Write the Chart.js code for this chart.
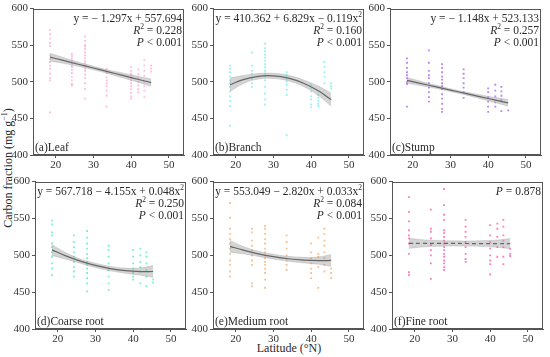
<!DOCTYPE html>
<html>
<head>
<meta charset="utf-8">
<script src="https://cdn.jsdelivr.net/npm/chart.js@4.4.0/dist/chart.umd.min.js"></script>
<style>
  body { margin: 0; background: #fff; }
  #wrap { position: relative; width: 550px; height: 357px; overflow: hidden; font-family: "Liberation Serif", serif; color: #2a2a2a; }
  canvas { position: absolute; }
  .ylab { position: absolute; left: 8px; top: 168px; transform: translate(-50%, -50%) rotate(-90deg); white-space: nowrap; font-size: 12px; }
  .xlab { position: absolute; left: 289px; top: 348px; transform: translate(-50%, -50%); white-space: nowrap; font-size: 12px; }
  sup { font-size: 8px; }
</style>
</head>
<body>
<div id="wrap">
  <div class="ylab">Carbon fraction (mg g<sup>−1</sup>)</div>
  <div class="xlab">Latitude (°N)</div>
</div>
<script>
// sampling sites (latitude, °N)
const siteLat = [18.5, 24.3, 27.8, 33.5, 40.0, 41.9, 43.5, 45.3]

const leafValues = [
  [571, 565, 559, 553, 549, 536, 531, 527, 522, 518, 511, 505, 502, 458],
  [538, 535, 532, 529, 526, 522, 520, 516, 512, 507, 502, 497, 495],
  [562, 556, 550, 548, 545, 540, 536, 532, 528, 525, 522, 518, 515, 510, 505, 498, 490, 477],
  [518, 512, 506, 502, 498, 494, 488, 481, 466],
  [520, 515, 511, 508, 505, 502, 498, 494, 490, 485, 480, 477],
  [517, 510, 505, 500, 495, 490, 486],
  [530, 522, 515, 508, 500, 494, 488, 479],
  [522, 518, 514]
]
const branchValues = [
  [522, 518, 513, 507, 502, 498, 493, 487, 480, 474, 467, 440],
  [540, 522, 515, 511, 504, 498, 493],
  [552, 546, 542, 537, 533, 529, 524, 520, 515, 511, 507, 502, 493, 484, 476, 469],
  [513, 509, 504, 500, 496, 489, 482, 427],
  [496, 491, 487, 480, 476, 469, 465],
  [482, 478, 474, 470, 467],
  [527, 520, 513, 507, 498],
  [498, 494, 491]
]
const stumpValues = [
  [532, 526, 519, 513, 509, 505, 500, 497, 466],
  [543, 526, 515, 509, 505, 498, 492, 486, 479, 473],
  [524, 519, 513, 507, 503, 498, 494, 490, 483, 477, 470, 463, 459],
  [517, 511, 505, 498, 492, 486, 478],
  [491, 486, 479, 473, 466, 459],
  [496, 488, 480, 472, 466],
  [493, 487, 481, 475, 460],
  [461]
]
const coarseValues = [
  [547, 542, 531, 527, 516, 511, 504, 498, 489, 482, 473],
  [527, 518, 511, 504, 498, 491, 484, 478, 471],
  [533, 524, 516, 509, 502, 496, 491, 487, 482, 476, 469, 462, 451],
  [513, 507, 498, 489, 480, 471, 462, 453],
  [507, 498, 489, 482, 476, 471, 467],
  [509, 500, 491, 484, 478, 462],
  [504, 498, 489, 480, 471, 458],
  [467, 463]
]
const mediumValues = [
  [571, 551, 536, 529, 522, 516, 509, 502, 493, 487, 478, 471],
  [536, 531, 520, 513, 507, 500, 493, 487, 462, 458],
  [540, 536, 529, 522, 516, 509, 504, 500, 496, 491, 487, 482, 476, 467, 456],
  [527, 518, 509, 500, 493, 487, 480],
  [516, 504, 496, 489, 482, 476, 469],
  [524, 502, 498, 484, 456],
  [536, 529, 520, 513, 504, 496, 487, 478],
  [482, 476, 469]
]
const fineValues = [
  [579, 559, 546, 534, 527, 523, 516, 502, 477, 473],
  [562, 536, 532, 523, 514, 507, 500, 489, 468],
  [590, 568, 555, 548, 534, 530, 525, 520, 516, 511, 507, 502, 498, 493, 489, 484, 480],
  [548, 539, 532, 525, 518, 511, 502, 495, 491],
  [541, 527, 518, 509, 500, 493, 488, 474],
  [543, 536, 525, 511, 498],
  [548, 539, 527, 520, 511, 498, 488],
  [509, 502, 499]
]

// fitted curves and their confidence bands
const fitLat = [18.5, 22, 26, 30, 34, 38, 42, 45.3]
const leafFit = [533.7, 529.2, 524.0, 518.8, 513.6, 508.4, 503.2, 498.9]
const leafLo = [528.5, 525.2, 521.1, 516.4, 511.1, 505.1, 499.1, 493.9]
const leafHi = [538.9, 533.2, 526.9, 521.2, 516.1, 511.7, 507.3, 503.9]
const branchFit = [496.0, 503.0, 507.5, 508.1, 505.0, 498.0, 487.3, 475.5]
const branchLo = [487.0, 497.5, 503.7, 504.5, 501.2, 493.5, 480.8, 466.5]
const branchHi = [505.0, 508.5, 511.3, 511.7, 508.8, 502.5, 493.8, 484.5]
const stumpFit = [501.9, 497.9, 493.3, 488.7, 484.1, 479.5, 474.9, 471.1]
const stumpLo = [497.9, 494.9, 491.1, 486.8, 482.1, 476.9, 471.4, 466.6]
const stumpHi = [505.9, 500.9, 495.5, 490.6, 486.1, 482.1, 478.4, 475.6]
const coarseFit = [507.3, 499.5, 492.1, 486.3, 481.9, 479.1, 477.9, 478.0]
const coarseLo = [499.8, 495.0, 489.1, 483.3, 478.9, 475.6, 472.9, 470.0]
const coarseHi = [514.8, 504.0, 495.1, 489.3, 484.9, 482.6, 482.9, 486.0]
const mediumFit = [512.2, 507.0, 502.0, 498.2, 495.3, 493.5, 492.8, 493.0]
const mediumLo = [504.2, 502.0, 498.5, 494.9, 492.0, 489.7, 487.8, 485.0]
const mediumHi = [520.2, 512.0, 505.5, 501.5, 498.6, 497.3, 497.8, 501.0]
const fineFit = [516.3, 516.2, 516.2, 516.1, 516.0, 515.9, 515.8, 515.8]
const fineLo = [509.3, 511.2, 512.2, 512.6, 512.5, 511.9, 510.8, 508.8]
const fineHi = [523.3, 521.2, 520.2, 519.6, 519.5, 519.9, 520.8, 522.8]

const xTicks = [20, 30, 40, 50]
const yTicks = [400, 450, 500, 550, 600]

const panelNames = ['(a)Leaf', '(b)Branch', '(c)Stump', '(d)Coarse root', '(e)Medium root', '(f)Fine root']
const equations = ['y = − 1.297x + 557.694', 'y = 410.362 + 6.829x − 0.119x^2', 'y = − 1.148x + 523.133',
  'y = 567.718 − 4.155x + 0.048x^2', 'y = 553.049 − 2.820x + 0.033x^2', '']
const r2Values = ['0.228', '0.160', '0.257', '0.250', '0.084', '']
const pValues = ['< 0.001', '< 0.001', '< 0.001', '< 0.001', '< 0.001', '= 0.878']

const panels = [
  { vals: leafValues, fit: leafFit, lo: leafLo, hi: leafHi, color: 'rgba(255,120,200,0.5)', left: 33, top: 5, h: 150 },
  { vals: branchValues, fit: branchFit, lo: branchLo, hi: branchHi, color: 'rgba(60,235,235,0.55)', left: 213, top: 5, h: 150 },
  { vals: stumpValues, fit: stumpFit, lo: stumpLo, hi: stumpHi, color: 'rgba(140,50,230,0.6)', left: 390, top: 5, h: 150 },
  { vals: coarseValues, fit: coarseFit, lo: coarseLo, hi: coarseHi, color: 'rgba(0,235,160,0.55)', left: 35, top: 178, h: 151 },
  { vals: mediumValues, fit: mediumFit, lo: mediumLo, hi: mediumHi, color: 'rgba(245,160,80,0.65)', left: 213, top: 178, h: 151 },
  { vals: fineValues, fit: fineFit, lo: fineLo, hi: fineHi, color: 'rgba(250,40,150,0.6)', left: 392, top: 178, h: 151, dashed: true }
]

const FONT = '"Liberation Serif", "Times New Roman", serif'
const axisW = 34, axisH = 24, plotW = 151

function toXY(xs, ys) {
  return xs.map((x, i) => ({ x: x, y: ys[i] }))
}

function drawRich(ctx, parts, xRight, y, size) {
  let total = 0
  parts.forEach(p => {
    ctx.font = (p[1] === 'i' ? 'italic ' : '') + (p[1] === 's' ? size * 0.65 : size) + 'px ' + FONT
    p.w = ctx.measureText(p[0]).width
    total += p.w
  })
  let x = xRight - total
  parts.forEach(p => {
    ctx.font = (p[1] === 'i' ? 'italic ' : '') + (p[1] === 's' ? size * 0.65 : size) + 'px ' + FONT
    ctx.fillText(p[0], x, p[1] === 's' ? y - size * 0.35 : y)
    x += p.w
  })
}

const annotate = {
  id: 'annotate',
  afterDraw(chart, args, opts) {
    const ctx = chart.ctx, a = chart.chartArea
    ctx.save()
    ctx.strokeStyle = '#555'
    ctx.lineWidth = 1
    ctx.strokeRect(Math.round(a.left) + 0.5, Math.round(a.top) + 0.5, Math.round(a.right - a.left) - 1, Math.round(a.bottom - a.top) - 1)
    ctx.fillStyle = '#2a2a2a'
    ctx.textBaseline = 'middle'
    const i = opts.idx
    const size = 11.5
    let lines = []
    if (equations[i]) {
      lines.push(equations[i].split(/(\^2)/).filter(s => s).map(s => s === '^2' ? ['2', 's'] : [s, '']))
    }
    if (r2Values[i]) lines.push([['R', 'i'], ['2', 's'], [' = ' + r2Values[i], '']])
    lines.push([['P', 'i'], [' ' + pValues[i], '']])
    lines.forEach((ln, k) => drawRich(ctx, ln, a.right - 2, a.top + 10 + k * 12, size))
    ctx.textAlign = 'left'
    ctx.font = size + 'px ' + FONT
    ctx.fillText(panelNames[i], a.left + 2, a.bottom - 7)
    ctx.restore()
  }
}

const wrap = document.getElementById('wrap')

panels.forEach((p, idx) => {
  const cv = document.createElement('canvas')
  const w = axisW + plotW + 4
  const h = 5 + p.h + axisH
  cv.width = w
  cv.height = h
  cv.style.left = (p.left - axisW) + 'px'
  cv.style.top = (p.top - 5) + 'px'
  wrap.appendChild(cv)

  const pts = []
  siteLat.forEach((lat, s) => p.vals[s].forEach(v => pts.push({ x: lat, y: v })))

  new Chart(cv, {
    type: 'scatter',
    data: {
      datasets: [
        { data: toXY(fitLat, p.lo), showLine: true, borderColor: 'rgba(150,150,150,0.5)', borderWidth: 0.6, pointRadius: 0, tension: 0.4, fill: false, order: 2 },
        { data: toXY(fitLat, p.hi), showLine: true, borderColor: 'rgba(150,150,150,0.5)', borderWidth: 0.6, pointRadius: 0, tension: 0.4, fill: '-1', backgroundColor: 'rgba(160,160,160,0.45)', order: 2 },
        { data: toXY(fitLat, p.fit), showLine: true, borderColor: '#666', borderWidth: 1.2, pointRadius: 0, tension: 0.4, borderDash: p.dashed ? [4, 3] : [], order: 1 },
        { data: pts, pointStyle: 'rect', pointRadius: 1.3, backgroundColor: p.color, borderWidth: 0, order: 3 }
      ]
    },
    options: {
      responsive: false,
      animation: false,
      events: [],
      layout: { padding: { top: 5, right: 4, left: 0, bottom: 0 } },
      plugins: { legend: { display: false }, tooltip: { enabled: false }, annotate: { idx: idx } },
      scales: {
        x: {
          type: 'linear', min: 14, max: 54,
          afterBuildTicks: s => { s.ticks = xTicks.map(v => ({ value: v })) },
          afterFit: s => { s.height = axisH },
          grid: { drawOnChartArea: false, tickLength: 3, color: '#555' },
          border: { color: '#555' },
          ticks: { font: { family: FONT, size: 11 }, color: '#333', padding: 1, maxRotation: 0 }
        },
        y: {
          min: 400, max: 600,
          afterBuildTicks: s => { s.ticks = yTicks.map(v => ({ value: v })) },
          afterFit: s => { s.width = axisW },
          grid: { drawOnChartArea: false, tickLength: 3, color: '#555' },
          border: { color: '#555' },
          ticks: { font: { family: FONT, size: 11 }, color: '#333', padding: 2 }
        }
      }
    },
    plugins: [annotate]
  })
})
</script>
</body>
</html>
